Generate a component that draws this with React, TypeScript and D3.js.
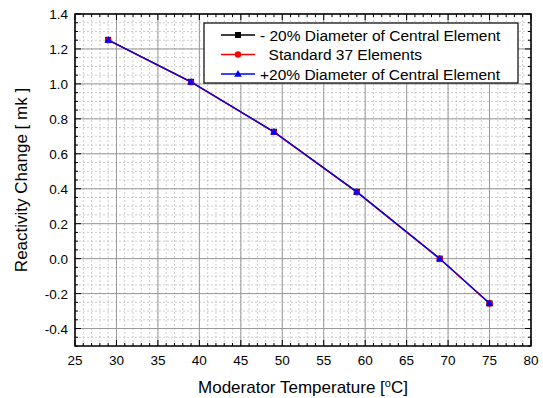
import React from 'react'
import * as d3 from 'd3'

const temps = [29, 39, 49, 59, 69, 75]
const minus20 = [1.252, 1.012, 0.726, 0.382, 0.0, -0.256]
const standard = [1.25, 1.01, 0.724, 0.38, -0.002, -0.257]
const plus20 = [1.251, 1.011, 0.725, 0.381, 0.0, -0.255]

const seriesNames = [
  '- 20% Diameter of Central Element',
  '  Standard 37 Elements',
  '+20% Diameter of Central Element',
]
const seriesColors = ['#000000', '#ff0000', '#0000ff']
const xTicks = [25, 30, 35, 40, 45, 50, 55, 60, 65, 70, 75, 80]
const yTicks = [-0.4, -0.2, 0.0, 0.2, 0.4, 0.6, 0.8, 1.0, 1.2, 1.4]

const W = 543
const H = 398
const m = { left: 75, right: 10, top: 14, bottom: 52 }
const font = 'Liberation Sans, Arial, sans-serif'

function Marker({ kind, x, y, color }: { kind: number; x: number; y: number; color: string }) {
  if (kind === 0) return <rect x={x - 3} y={y - 3} width={6} height={6} fill={color} />
  if (kind === 1) return <circle cx={x} cy={y} r={3.2} fill={color} />
  return <path d={`M${x},${y - 4}L${x + 3.8},${y + 2.8}L${x - 3.8},${y + 2.8}Z`} fill={color} />
}

export default function App() {
  const x = d3.scaleLinear().domain([25, 80]).range([m.left, W - m.right - 2])
  const y = d3.scaleLinear().domain([-0.5, 1.4]).range([H - m.bottom, m.top])
  const [x0, x1] = x.range()
  const [y0, y1] = y.range()

  const xMinor = d3.range(25, 80.01, 1)
  const yMinor = d3.range(0, 39).map((i) => -0.5 + i * 0.05)

  const line = d3.line<number>().x((_, i) => x(temps[i])).y((d) => y(d))
  const all = [minus20, standard, plus20]

  return (
    <svg width={W} height={H} style={{ position: 'absolute', left: 0, top: 0, background: '#fff' }} fontFamily={font}>
      <rect x={x0} y={y1} width={x1 - x0} height={y0 - y1} fill="#fff" />
      {/* minor grid */}
      {xMinor.map((v) => (
        <line key={'xm' + v} x1={x(v)} x2={x(v)} y1={y0} y2={y1} stroke="#c0c0c0" strokeWidth={0.8} strokeDasharray="2,2" />
      ))}
      {yMinor.map((v, i) => (
        <line key={'ym' + i} x1={x0} x2={x1} y1={y(v)} y2={y(v)} stroke="#c0c0c0" strokeWidth={0.8} strokeDasharray="2,2" />
      ))}
      {/* major grid */}
      {xTicks.map((v) => (
        <line key={'xg' + v} x1={x(v)} x2={x(v)} y1={y0} y2={y1} stroke="#9a9a9a" strokeWidth={1} />
      ))}
      {yTicks.map((v) => (
        <line key={'yg' + v} x1={x0} x2={x1} y1={y(v)} y2={y(v)} stroke="#9a9a9a" strokeWidth={1} />
      ))}
      {/* ticks, inside on all four sides */}
      {xMinor.map((v) => {
        const len = v % 5 === 0 ? 6 : 3
        return (
          <g key={'xt' + v}>
            <line x1={x(v)} x2={x(v)} y1={y0} y2={y0 - len} stroke="#000" />
            <line x1={x(v)} x2={x(v)} y1={y1} y2={y1 + len} stroke="#000" />
          </g>
        )
      })}
      {yMinor.map((v, i) => {
        const len = i % 4 === 2 ? 6 : 3
        return (
          <g key={'yt' + i}>
            <line x1={x0} x2={x0 + len} y1={y(v)} y2={y(v)} stroke="#000" />
            <line x1={x1} x2={x1 - len} y1={y(v)} y2={y(v)} stroke="#000" />
          </g>
        )
      })}
      <rect x={x0} y={y1} width={x1 - x0} height={y0 - y1} fill="none" stroke="#000" strokeWidth={1.5} />
      {/* tick labels */}
      {xTicks.map((v) => (
        <text key={'xl' + v} x={x(v)} y={y0 + 19} textAnchor="middle" fontSize={13.5} fill="#000">{v}</text>
      ))}
      {yTicks.map((v) => (
        <text key={'yl' + v} x={x0 - 7} y={y(v) + 5} textAnchor="end" fontSize={13.5} fill="#000">{d3.format('.1f')(v).replace('−', '-')}</text>
      ))}
      {/* axis titles */}
      <text x={(x0 + x1) / 2} y={H - 5} textAnchor="middle" fontSize={17} fill="#000">
        Moderator Temperature [<tspan dy={-6} fontSize={11}>o</tspan><tspan dy={6}>C]</tspan>
      </text>
      <text transform={`translate(27,${(y0 + y1) / 2}) rotate(-90)`} textAnchor="middle" fontSize={17} fill="#000">
        Reactivity Change [ mk ]
      </text>
      {/* series */}
      {all.map((s, k) => (
        <g key={'s' + k}>
          <path d={line(s) || ''} fill="none" stroke={seriesColors[k]} strokeWidth={1.3} />
          {s.map((v, i) => (
            <Marker key={i} kind={k} x={x(temps[i])} y={y(v)} color={seriesColors[k]} />
          ))}
        </g>
      ))}
      {/* legend */}
      <rect x={204} y={23} width={314} height={60} fill="#fff" stroke="#000" strokeWidth={1.2} />
      {seriesNames.map((n, k) => {
        const ly = 35 + k * 19.5
        return (
          <g key={'lg' + k}>
            <line x1={221} x2={255} y1={ly} y2={ly} stroke={seriesColors[k]} strokeWidth={1.3} />
            <Marker kind={k} x={238} y={ly} color={seriesColors[k]} />
            <text x={260} y={ly + 5.5} fontSize={15.5} fill="#000" style={{ whiteSpace: 'pre' }}>{n}</text>
          </g>
        )
      })}
    </svg>
  )
}
